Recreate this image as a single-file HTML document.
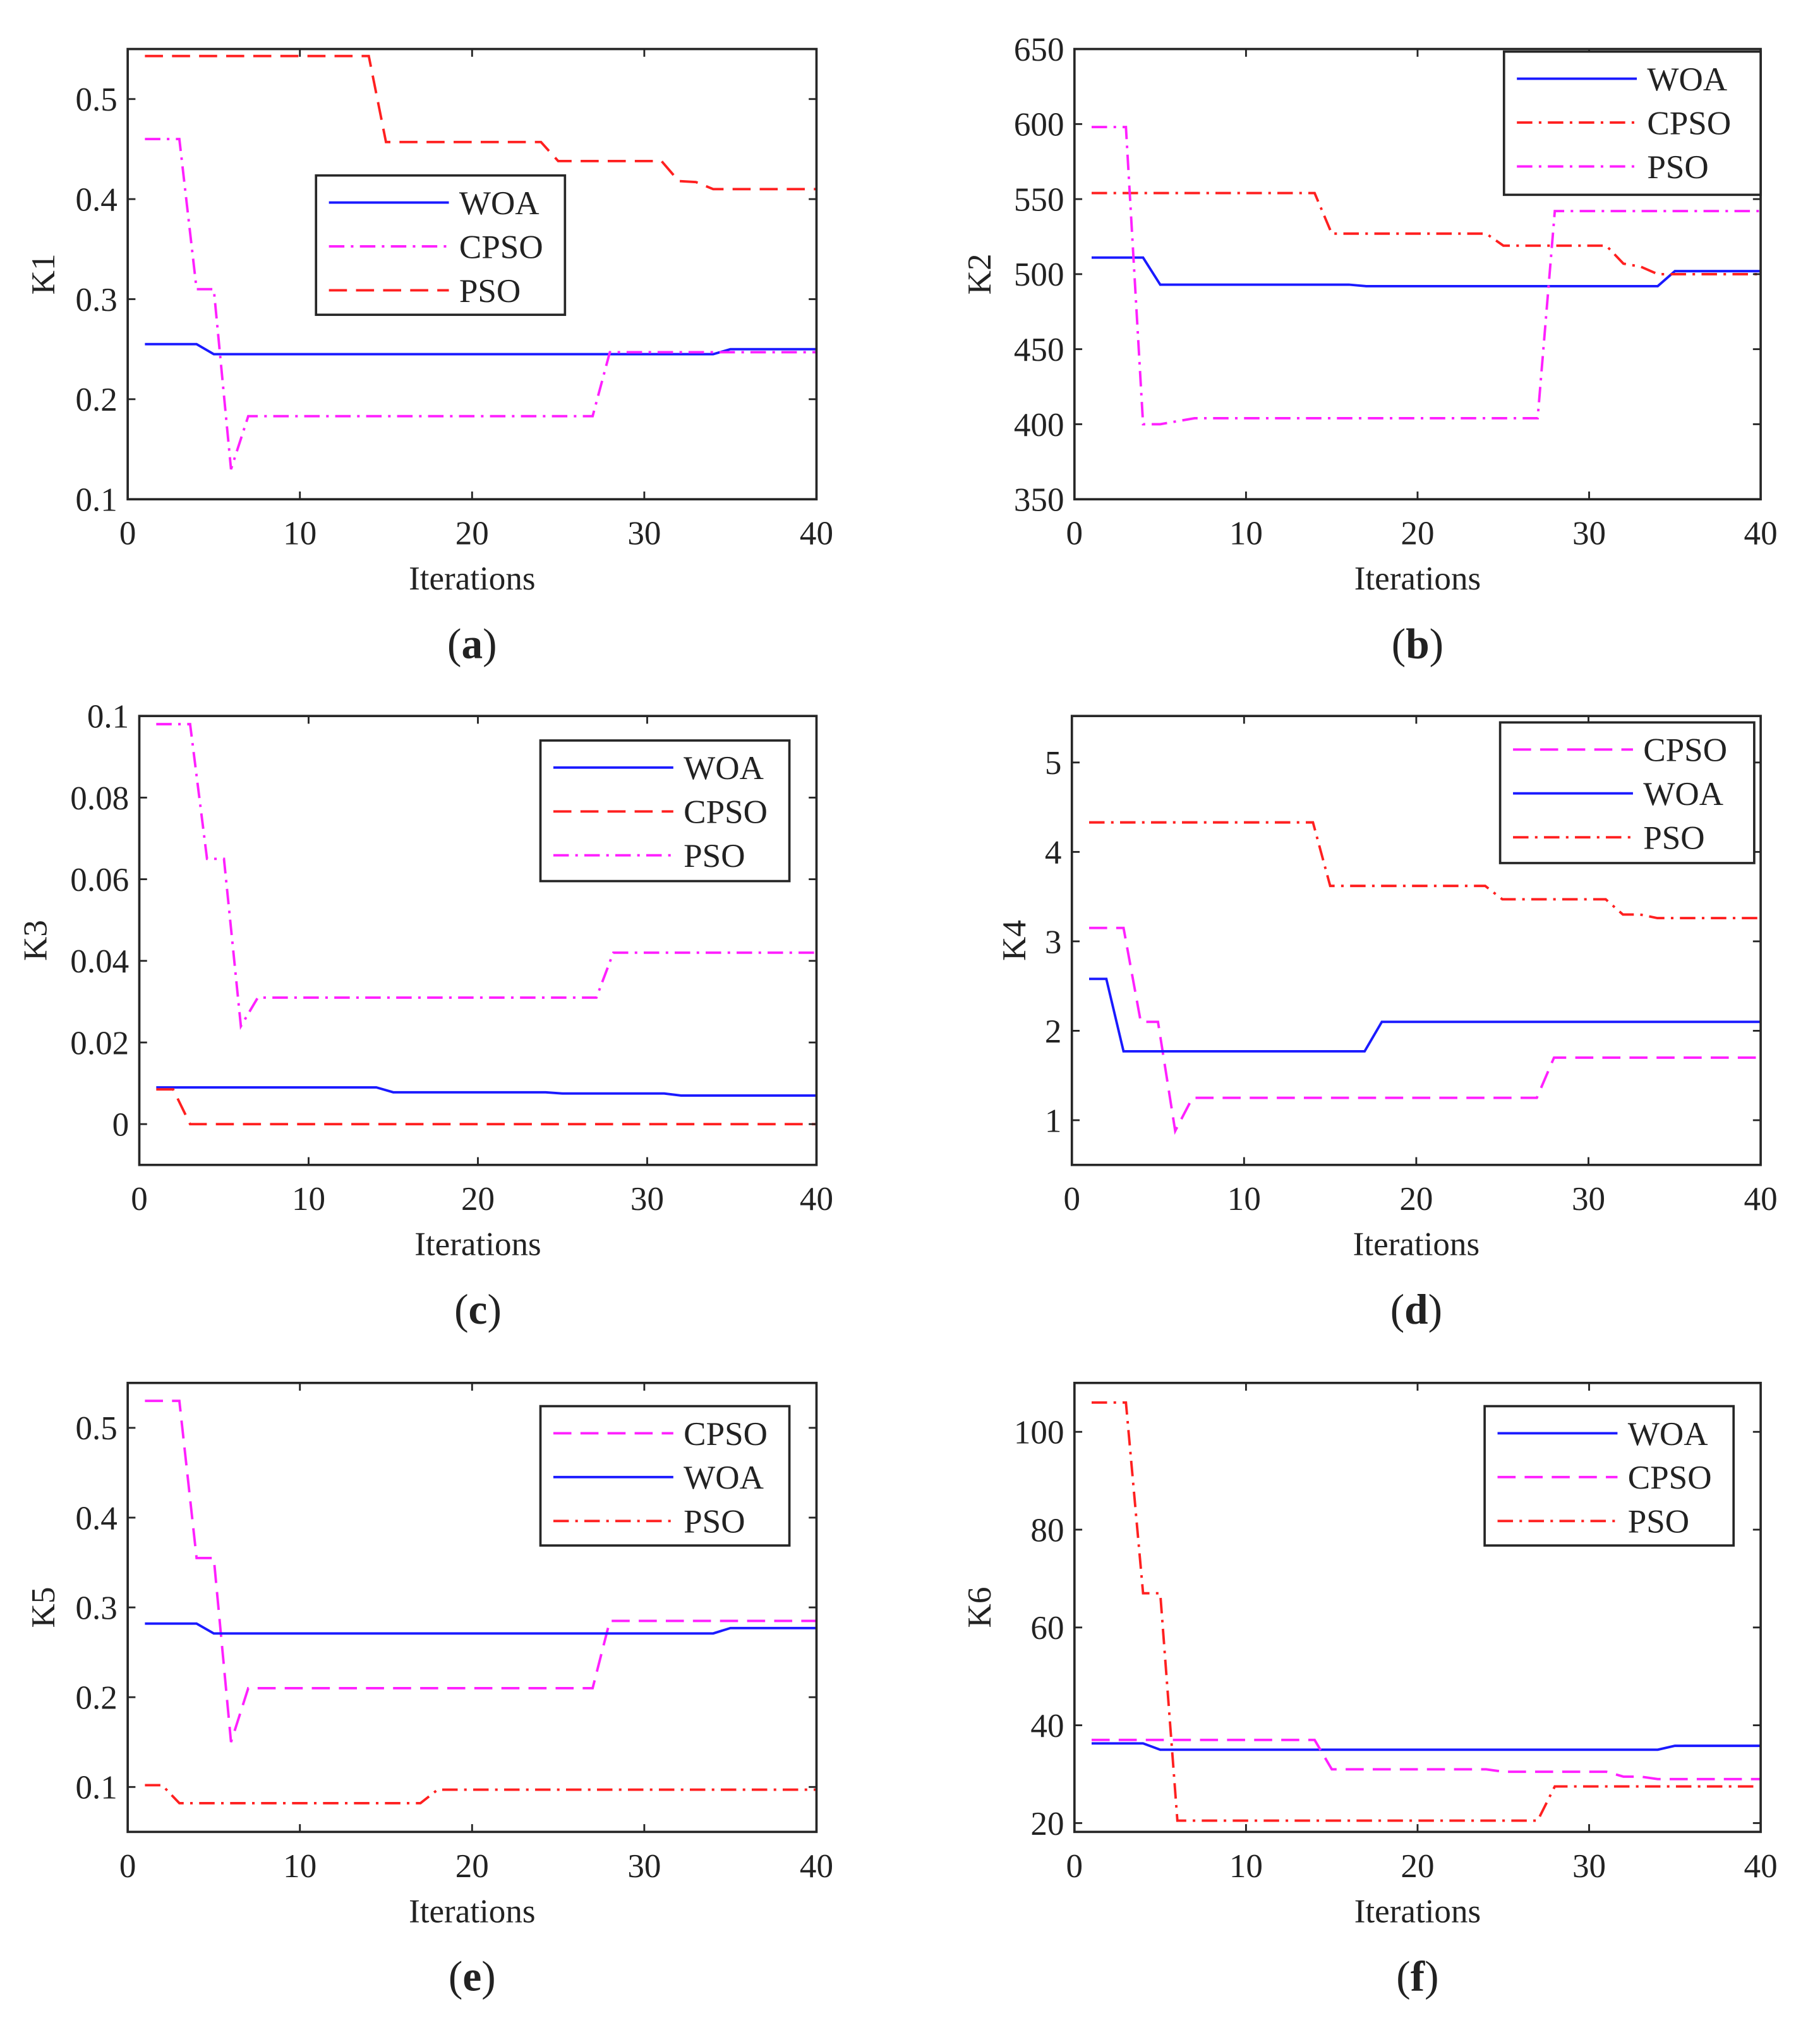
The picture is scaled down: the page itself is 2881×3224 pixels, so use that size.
<!DOCTYPE html>
<html><head><meta charset="utf-8"><style>
html,body{margin:0;padding:0;background:#fff;}
svg{display:block;}
text{font-family:"Liberation Serif",serif;fill:#222;}
</style></head><body>
<svg id="fig" width="2881" height="3224" viewBox="0 0 1411 1579" preserveAspectRatio="none" xmlns="http://www.w3.org/2000/svg"></svg>
<script>
const iterations = Array.from({length:40},(_,i)=>i+1);
// Panel a (K1)
const aWOA  = [0.255,0.255,0.255,0.255,0.245,0.245,0.245,0.245,0.245,0.245,0.245,0.245,0.245,0.245,0.245,0.245,0.245,0.245,0.245,0.245,0.245,0.245,0.245,0.245,0.245,0.245,0.245,0.245,0.245,0.245,0.245,0.245,0.245,0.245,0.25,0.25,0.25,0.25,0.25,0.25];
const aCPSO = [0.46,0.46,0.46,0.31,0.31,0.13,0.183,0.183,0.183,0.183,0.183,0.183,0.183,0.183,0.183,0.183,0.183,0.183,0.183,0.183,0.183,0.183,0.183,0.183,0.183,0.183,0.183,0.247,0.247,0.247,0.247,0.247,0.247,0.247,0.247,0.247,0.247,0.247,0.247,0.247];
const aPSO  = [0.543,0.543,0.543,0.543,0.543,0.543,0.543,0.543,0.543,0.543,0.543,0.543,0.543,0.543,0.457,0.457,0.457,0.457,0.457,0.457,0.457,0.457,0.457,0.457,0.438,0.438,0.438,0.438,0.438,0.438,0.438,0.418,0.417,0.41,0.41,0.41,0.41,0.41,0.41,0.41];
// Panel b (K2)
const bWOA  = [511,511,511,511,493,493,493,493,493,493,493,493,493,493,493,493,492,492,492,492,492,492,492,492,492,492,492,492,492,492,492,492,492,492,502,502,502,502,502,502];
const bCPSO = [554,554,554,554,554,554,554,554,554,554,554,554,554,554,527,527,527,527,527,527,527,527,527,527,519,519,519,519,519,519,519,507,505,500,500,500,500,500,500,500];
const bPSO  = [598,598,598,400,400,402,404,404,404,404,404,404,404,404,404,404,404,404,404,404,404,404,404,404,404,404,404,542,542,542,542,542,542,542,542,542,542,542,542,542];
// Panel c (K3)
const cWOA  = [0.009,0.009,0.009,0.009,0.009,0.009,0.009,0.009,0.009,0.009,0.009,0.009,0.009,0.009,0.0078,0.0078,0.0078,0.0078,0.0078,0.0078,0.0078,0.0078,0.0078,0.0078,0.0075,0.0075,0.0075,0.0075,0.0075,0.0075,0.0075,0.007,0.007,0.007,0.007,0.007,0.007,0.007,0.007,0.007];
const cCPSO = [0.0085,0.0085,0,0,0,0,0,0,0,0,0,0,0,0,0,0,0,0,0,0,0,0,0,0,0,0,0,0,0,0,0,0,0,0,0,0,0,0,0,0];
const cPSO  = [0.098,0.098,0.098,0.065,0.065,0.024,0.031,0.031,0.031,0.031,0.031,0.031,0.031,0.031,0.031,0.031,0.031,0.031,0.031,0.031,0.031,0.031,0.031,0.031,0.031,0.031,0.031,0.042,0.042,0.042,0.042,0.042,0.042,0.042,0.042,0.042,0.042,0.042,0.042,0.042];
// Panel d (K4)
const dCPSO = [3.15,3.15,3.15,2.1,2.1,0.88,1.25,1.25,1.25,1.25,1.25,1.25,1.25,1.25,1.25,1.25,1.25,1.25,1.25,1.25,1.25,1.25,1.25,1.25,1.25,1.25,1.25,1.7,1.7,1.7,1.7,1.7,1.7,1.7,1.7,1.7,1.7,1.7,1.7,1.7];
const dWOA  = [2.58,2.58,1.77,1.77,1.77,1.77,1.77,1.77,1.77,1.77,1.77,1.77,1.77,1.77,1.77,1.77,1.77,2.1,2.1,2.1,2.1,2.1,2.1,2.1,2.1,2.1,2.1,2.1,2.1,2.1,2.1,2.1,2.1,2.1,2.1,2.1,2.1,2.1,2.1,2.1];
const dPSO  = [4.33,4.33,4.33,4.33,4.33,4.33,4.33,4.33,4.33,4.33,4.33,4.33,4.33,4.33,3.62,3.62,3.62,3.62,3.62,3.62,3.62,3.62,3.62,3.62,3.47,3.47,3.47,3.47,3.47,3.47,3.47,3.3,3.3,3.26,3.26,3.26,3.26,3.26,3.26,3.26];
// Panel e (K5)
const eCPSO = [0.53,0.53,0.53,0.355,0.355,0.15,0.21,0.21,0.21,0.21,0.21,0.21,0.21,0.21,0.21,0.21,0.21,0.21,0.21,0.21,0.21,0.21,0.21,0.21,0.21,0.21,0.21,0.285,0.285,0.285,0.285,0.285,0.285,0.285,0.285,0.285,0.285,0.285,0.285,0.285];
const eWOA  = [0.282,0.282,0.282,0.282,0.271,0.271,0.271,0.271,0.271,0.271,0.271,0.271,0.271,0.271,0.271,0.271,0.271,0.271,0.271,0.271,0.271,0.271,0.271,0.271,0.271,0.271,0.271,0.271,0.271,0.271,0.271,0.271,0.271,0.271,0.277,0.277,0.277,0.277,0.277,0.277];
const ePSO  = [0.102,0.102,0.082,0.082,0.082,0.082,0.082,0.082,0.082,0.082,0.082,0.082,0.082,0.082,0.082,0.082,0.082,0.097,0.097,0.097,0.097,0.097,0.097,0.097,0.097,0.097,0.097,0.097,0.097,0.097,0.097,0.097,0.097,0.097,0.097,0.097,0.097,0.097,0.097,0.097];
// Panel f (K6)
const fWOA  = [36.3,36.3,36.3,36.3,35,35,35,35,35,35,35,35,35,35,35,35,35,35,35,35,35,35,35,35,35,35,35,35,35,35,35,35,35,35,35.8,35.8,35.8,35.8,35.8,35.8];
const fCPSO = [37,37,37,37,37,37,37,37,37,37,37,37,37,37,31,31,31,31,31,31,31,31,31,31,30.5,30.5,30.5,30.5,30.5,30.5,30.5,29.5,29.5,29,29,29,29,29,29,29];
const fPSO  = [106,106,106,67,67,20.5,20.5,20.5,20.5,20.5,20.5,20.5,20.5,20.5,20.5,20.5,20.5,20.5,20.5,20.5,20.5,20.5,20.5,20.5,20.5,20.5,20.5,27.5,27.5,27.5,27.5,27.5,27.5,27.5,27.5,27.5,27.5,27.5,27.5,27.5];
const xTicks = [0,10,20,30,40];
const aTicks = [0.1,0.2,0.3,0.4,0.5];
const bTicks = [350,400,450,500,550,600,650];
const cTicks = [0,0.02,0.04,0.06,0.08,0.1];
const dTicks = [1,2,3,4,5];
const eTicks = [0.1,0.2,0.3,0.4,0.5];
const fTicks = [20,40,60,80,100];

const NS="http://www.w3.org/2000/svg";
const svg=document.getElementById('fig');
function mk(tag,attrs,parent){const e=document.createElementNS(NS,tag);for(const k in attrs)e.setAttribute(k,attrs[k]);(parent||svg).appendChild(e);return e;}
const STY={
 blue:{stroke:'#1a1aff',dash:''},
 redDash:{stroke:'#ff2020',dash:'14,7'},
 redDot:{stroke:'#ff2020',dash:'12,5,2,5'},
 magDash:{stroke:'#ff20ff',dash:'14,7'},
 magDot:{stroke:'#ff20ff',dash:'12,5,2,5'}
};
function panel(p){
 const g=mk('g',{});
 
 
 const X=v=>p.x0+(v-0)/40*(p.x1-p.x0);
 const Y=v=>p.y1-(v-p.ymin)/(p.ymax-p.ymin)*(p.y1-p.y0);
 p.series.forEach(s=>{
  const d=s.data.map((v,i)=>(i?'L':'M')+X(iterations[i]).toFixed(2)+','+Y(v).toFixed(2)).join('');
  const st=STY[s.style];
  const path=mk('path',{d:d,fill:'none',stroke:st.stroke,'stroke-width':1.9,'stroke-dasharray':st.dash},g);
  
  
 });
 const box=mk('rect',{x:p.x0,y:p.y0,width:p.x1-p.x0,height:p.y1-p.y0,fill:'none',stroke:'#262626','stroke-width':1.8},g);
 
 
 xTicks.forEach(t=>{
  const x=X(t);
  mk('line',{x1:x,x2:x,y1:p.y1,y2:p.y1-6,stroke:'#262626','stroke-width':1.4},g);
  mk('line',{x1:x,x2:x,y1:p.y0,y2:p.y0+6,stroke:'#262626','stroke-width':1.4},g);
  const tx=mk('text',{x:x,y:p.y1+35,'font-size':26,'text-anchor':'middle'},g);
  tx.textContent=t;
  
  
 });
 p.ticks.forEach(t=>{
  const y=Y(t);
  mk('line',{x1:p.x0,x2:p.x0+6,y1:y,y2:y,stroke:'#262626','stroke-width':1.4},g);
  mk('line',{x1:p.x1,x2:p.x1-6,y1:y,y2:y,stroke:'#262626','stroke-width':1.4},g);
  const tx=mk('text',{x:p.x0-8,y:y+9,'font-size':26,'text-anchor':'end'},g);
  tx.textContent=t;
  
  
 });
 const cx=(p.x0+p.x1)/2;
 const xl=mk('text',{x:cx,y:p.y1+70,'font-size':26,'text-anchor':'middle'},g);
 xl.textContent='Iterations';
 
 
 const yl=mk('text',{x:0,y:0,'font-size':26,'text-anchor':'middle',transform:`translate(${p.ylx},${(p.y0+p.y1)/2}) rotate(-90)`},g);
 yl.textContent=p.ylabel;
 
 
 const pl=mk('text',{x:cx,y:p.y1+123,'font-size':33,'text-anchor':'middle'},g);
 pl.innerHTML='(<tspan font-weight="bold">'+p.id+'</tspan>)';
 
 
 const L=p.leg;
 const lg=mk('g',{},g);
 
 
 mk('rect',{x:L.x,y:L.y,width:L.w,height:L.h,fill:'#fff',stroke:'#262626','stroke-width':1.8},lg);
 p.legOrder.forEach((si,k)=>{
  const s=p.series[si],st=STY[s.style];
  const yy=L.y+21+k*34;
  mk('line',{x1:L.x+10,x2:L.x+103,y1:yy,y2:yy,stroke:st.stroke,'stroke-width':1.9,'stroke-dasharray':st.dash},lg);
  const t=mk('text',{x:L.x+111,y:yy+9,'font-size':26},lg);
  t.textContent=s.name;
  
  
 });
}
panel({id:'a',x0:99,x1:633,y0:38,y1:387,ymin:0.1,ymax:0.55,ticks:aTicks,ylabel:'K1',ylx:42,
 series:[{name:'WOA',data:aWOA,style:'blue'},{name:'CPSO',data:aCPSO,style:'magDot'},{name:'PSO',data:aPSO,style:'redDash'}],
 legOrder:[0,1,2],leg:{x:245,y:136,w:193,h:108}});
panel({id:'b',x0:833,x1:1365,y0:38,y1:387,ymin:350,ymax:650,ticks:bTicks,ylabel:'K2',ylx:768,
 series:[{name:'WOA',data:bWOA,style:'blue'},{name:'CPSO',data:bCPSO,style:'redDot'},{name:'PSO',data:bPSO,style:'magDot'}],
 legOrder:[0,1,2],leg:{x:1166,y:40,w:199,h:111}});
panel({id:'c',x0:108,x1:633,y0:555,y1:903,ymin:-0.01,ymax:0.1,ticks:cTicks,ylabel:'K3',ylx:36,
 series:[{name:'WOA',data:cWOA,style:'blue'},{name:'CPSO',data:cCPSO,style:'redDash'},{name:'PSO',data:cPSO,style:'magDot'}],
 legOrder:[0,1,2],leg:{x:419,y:574,w:193,h:109}});
panel({id:'d',x0:831,x1:1365,y0:555,y1:903,ymin:0.5,ymax:5.52,ticks:dTicks,ylabel:'K4',ylx:795,
 series:[{name:'CPSO',data:dCPSO,style:'magDash'},{name:'WOA',data:dWOA,style:'blue'},{name:'PSO',data:dPSO,style:'redDot'}],
 legOrder:[0,1,2],leg:{x:1163,y:560,w:197,h:109}});
panel({id:'e',x0:99,x1:633,y0:1072,y1:1420,ymin:0.05,ymax:0.55,ticks:eTicks,ylabel:'K5',ylx:42,
 series:[{name:'CPSO',data:eCPSO,style:'magDash'},{name:'WOA',data:eWOA,style:'blue'},{name:'PSO',data:ePSO,style:'redDot'}],
 legOrder:[0,1,2],leg:{x:419,y:1090,w:193,h:108}});
panel({id:'f',x0:833,x1:1365,y0:1072,y1:1420,ymin:18.2,ymax:110,ticks:fTicks,ylabel:'K6',ylx:768,
 series:[{name:'WOA',data:fWOA,style:'blue'},{name:'CPSO',data:fCPSO,style:'magDash'},{name:'PSO',data:fPSO,style:'redDot'}],
 legOrder:[0,1,2],leg:{x:1151,y:1090,w:193,h:108}});
</script>
</body></html>
